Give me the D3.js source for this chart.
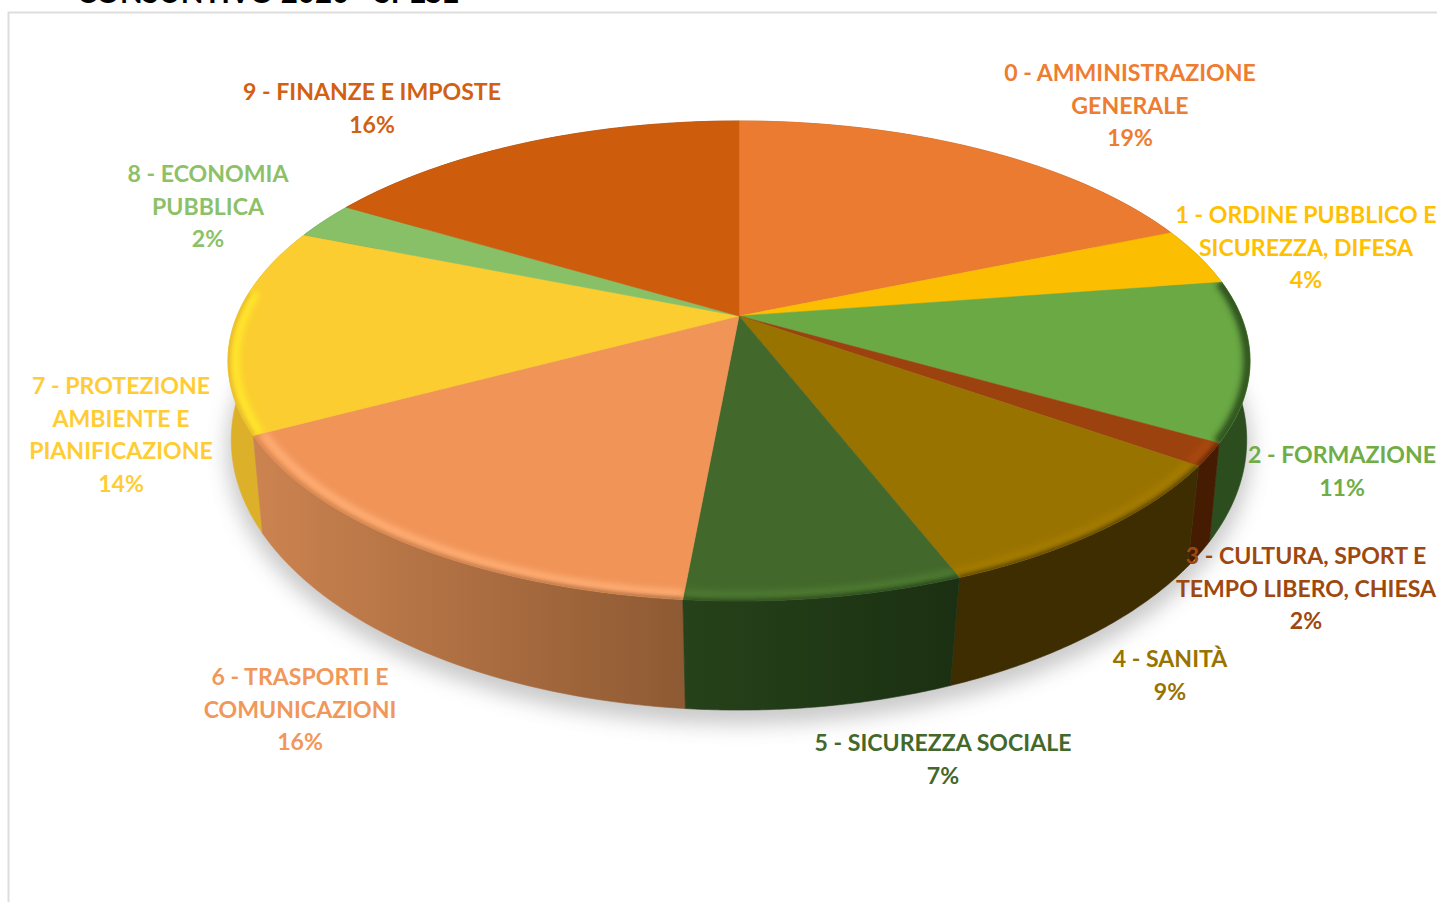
<!DOCTYPE html>
<html lang="en">
<head>
<meta charset="UTF-8">
<title>Consuntivo 2020 - Spese</title>
<script src="https://d3js.org/d3.v7.min.js"></script>
<style>
  html, body { margin: 0; padding: 0; background: #fff; overflow: hidden; }
  text { font-family: Lato, "Open Sans", sans-serif; font-weight: 700; }
</style>
</head>
<body>
<div id="chart"></div>
<script>
  const titleText = "CONSUNTIVO 2020 - SPESE";

  // slice shares, the rounded % are what the labels print
  const categories = [
    ["0 - AMMINISTRAZIONE", "GENERALE"],
    ["1 - ORDINE PUBBLICO E", "SICUREZZA, DIFESA"],
    ["2 - FORMAZIONE"],
    ["3 - CULTURA, SPORT E", "TEMPO LIBERO, CHIESA"],
    ["4 - SANITÀ"],
    ["5 - SICUREZZA SOCIALE"],
    ["6 - TRASPORTI E", "COMUNICAZIONI"],
    ["7 - PROTEZIONE", "AMBIENTE E", "PIANIFICAZIONE"],
    ["8 - ECONOMIA", "PUBBLICA"],
    ["9 - FINANZE E IMPOSTE"]
  ];
  const shares = [18.7, 3.9, 10.7, 1.5, 9.3, 7.35, 15.75, 13.9, 2.5, 16.4];
  const percentLabels = ["19%", "4%", "11%", "2%", "9%", "7%", "16%", "14%", "2%", "16%"];

  const topColors = ["#EA7B30", "#FBBE00", "#6BA945", "#9C420E", "#997300", "#43682B", "#F09458", "#FBCD30", "#88C068", "#CD5C0D"];
  const labelColors = ["#ED7D31", "#FFC000", "#70AD47", "#9E480E", "#997300", "#43682B", "#F1975A", "#FFCD33", "#8CC168", "#D26012"];
  const wallLeft = ["#B05A20", "#B88A00", "#2C4D1E", "#451C02", "#3D2D00", "#26421A", "#CC8350", "#DDB02A", "#5F8A45", "#8F400A"];
  const wallRight = ["#B05A20", "#B88A00", "#2C4D1E", "#451C02", "#3D2D00", "#1B3012", "#8E5A33", "#DDB02A", "#5F8A45", "#8F400A"];
  const bevelColors = [null, null, "#2C4D1E", "#A8490F", "#A47C00", "#4E7A33", "#FFAE74", "#FFE82A", null, null];
  const bevelInsets = [1, 1, 0.995, 0.98, 0.98, 0.98, 0.98, 0.985, 1, 1];

  // label anchor: centre x, first baseline y
  const labelX = [1130, 1306, 1342, 1306, 1170, 943, 300, 121, 208, 372];
  const labelY = [81, 223, 463, 564, 667, 751, 685, 394, 182, 100];

  const width = 1437, height = 902;
  const lineHeight = 32.5;
  const cx = 739, cy = 316;
  const persp = 0.1875, radX = 502, radY = 231.6;
  const basePersp = 0.15, baseX = 502, baseY = 264, baseCy = 399.5;

  const svg = d3.select("#chart").append("svg")
    .attr("width", width)
    .attr("height", height);
  const defs = svg.append("defs");

  const blur = (id, sd) => defs.append("filter")
    .attr("id", id)
    .attr("x", "-20%").attr("y", "-20%").attr("width", "140%").attr("height", "140%")
    .append("feGaussianBlur").attr("stdDeviation", sd);
  blur("shadowBlur", 10);
  blur("bevelBlur", 3);
  blur("edgeBlur", 2);

  const xScale = d3.scaleLinear().domain([0, 1]).range([cx, cx + radX]);
  const yScale = d3.scaleLinear().domain([0, 1]).range([cy, cy + radY]);
  const xBase = d3.scaleLinear().domain([0, 1]).range([cx, cx + baseX]);
  const yBase = d3.scaleLinear().domain([0, 1]).range([baseCy, baseCy + baseY]);

  // angle is clockwise from the back of the disc, tilted with a small perspective
  function rimPoint(a) {
    const u = Math.sin(a), v = -Math.cos(a), d = 1 - persp * v;
    return [xScale(u / d), yScale(v / d)];
  }
  function basePoint(a) {
    const u = Math.sin(a), v = -Math.cos(a), d = 1 - basePersp * v;
    return [xBase(u / d), yBase(v / d)];
  }
  const line = d3.line();
  const sample = (a0, a1) => d3.range(0, 61).map(i => a0 + (a1 - a0) * i / 60);

  const arcs = d3.pie().sort(null).value(d => d)(shares);
  const topPath = d => line([[cx, cy], ...sample(d.startAngle, d.endAngle).map(rimPoint)]) + "Z";
  const wallPath = d => {
    const s = sample(d.startAngle, d.endAngle);
    return line([...s.map(rimPoint), ...s.reverse().map(basePoint)]) + "Z";
  };

  // frame of the chart area
  svg.append("path")
    .attr("d", line([[8.5, height], [8.5, 12.5], [width, 12.5]]))
    .attr("fill", "none")
    .attr("stroke", "#DDDDDD")
    .attr("stroke-width", 2);

  svg.append("text")
    .attr("x", 77).attr("y", 3)
    .attr("font-size", 29.5)
    .attr("fill", "#000")
    .text(titleText);

  // soft shadow under the disc
  svg.append("path")
    .attr("d", line(sample(0, 2 * Math.PI).map(basePoint)) + "Z")
    .attr("transform", "translate(0,10)")
    .attr("fill", "#8a8a8a")
    .attr("stroke", "#8a8a8a")
    .attr("stroke-width", 10)
    .attr("opacity", 0.45)
    .attr("filter", "url(#shadowBlur)");

  arcs.forEach((d, i) => {
    const s = sample(d.startAngle, d.endAngle).map(rimPoint);
    const g = defs.append("linearGradient")
      .attr("id", "wall" + i)
      .attr("gradientUnits", "userSpaceOnUse")
      .attr("x1", d3.min(s, p => p[0])).attr("x2", d3.max(s, p => p[0]))
      .attr("y1", 0).attr("y2", 0);
    g.append("stop").attr("offset", 0).attr("stop-color", wallLeft[i]);
    g.append("stop").attr("offset", 1).attr("stop-color", wallRight[i]);
    defs.append("clipPath").attr("id", "clip" + i).append("path").attr("d", topPath(d));
  });

  // side walls, back ones first
  const mid = d => (d.startAngle + d.endAngle) / 2;
  const byDepth = arcs.slice().sort((a, b) => rimPoint(mid(a))[1] - rimPoint(mid(b))[1]);
  svg.append("g").selectAll("path")
    .data(byDepth)
    .join("path")
    .attr("d", wallPath)
    .attr("fill", d => `url(#wall${d.index})`)
    .attr("stroke", d => `url(#wall${d.index})`)
    .attr("stroke-width", 0.6);

  // top faces
  svg.append("g").selectAll("path")
    .data(arcs)
    .join("path")
    .attr("d", topPath)
    .attr("fill", d => topColors[d.index])
    .attr("stroke", d => topColors[d.index])
    .attr("stroke-width", 0.5);

  // bevel along the front rim, clipped to each slice
  const bevelFrom = 72 * Math.PI / 180, bevelTo = 276 * Math.PI / 180;
  const bevelled = arcs.filter(d => bevelColors[d.index]);
  const rimSamples = d => sample(Math.max(d.startAngle, bevelFrom), Math.min(d.endAngle, bevelTo)).map(rimPoint);
  const bevelPath = d => {
    const k = bevelInsets[d.index];
    return line(rimSamples(d).map(p => [cx + k * (p[0] - cx), cy + k * (p[1] - cy)]));
  };

  const bevelGroups = svg.append("g").selectAll("g")
    .data(bevelled)
    .join("g")
    .attr("clip-path", d => `url(#clip${d.index})`);
  bevelGroups.append("path")
    .attr("d", bevelPath)
    .attr("fill", "none")
    .attr("stroke", d => bevelColors[d.index])
    .attr("stroke-width", 8)
    .attr("filter", "url(#bevelBlur)");
  // rim softens into the wall colour, inside the top face only
  bevelGroups.append("path")
    .attr("d", d => line(rimSamples(d)))
    .attr("fill", "none")
    .attr("stroke", d => `url(#wall${d.index})`)
    .attr("stroke-width", 3)
    .attr("filter", "url(#edgeBlur)");

  // data labels
  const labels = svg.append("g").selectAll("text")
    .data(categories)
    .join("text")
    .attr("text-anchor", "middle")
    .attr("font-size", 23.1)
    .attr("fill", (d, i) => labelColors[i]);
  labels.selectAll("tspan")
    .data((d, i) => [...d, percentLabels[i]].map((t, j) => ({ t, j, i })))
    .join("tspan")
    .attr("x", d => labelX[d.i])
    .attr("y", d => labelY[d.i] + d.j * lineHeight)
    .text(d => d.t);
</script>
</body>
</html>
